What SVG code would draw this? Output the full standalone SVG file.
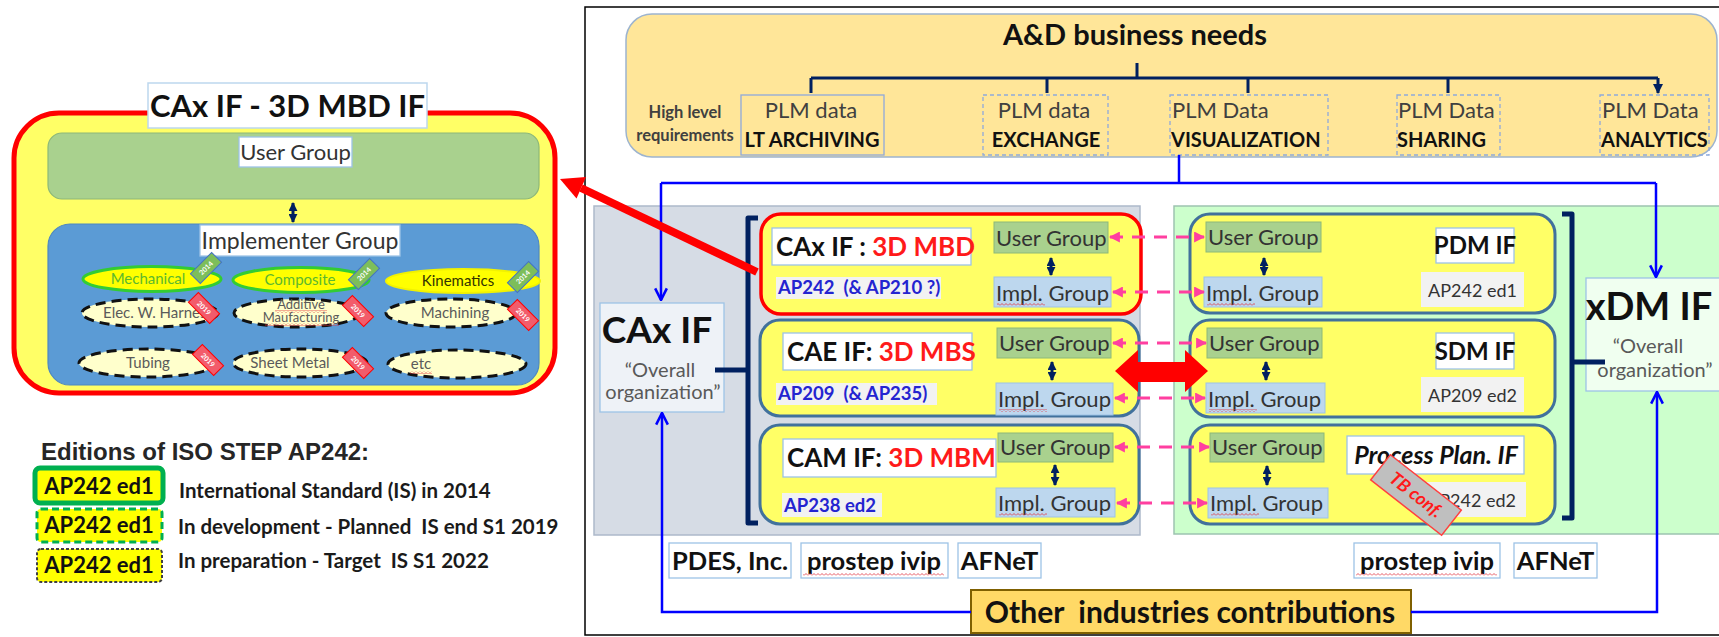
<svg xmlns="http://www.w3.org/2000/svg" width="1719" height="637" viewBox="0 0 1719 637">
<defs>
<style>
text{font-family:Lato,"Noto Sans","Liberation Sans",sans-serif;fill:#111}
.b{font-weight:bold}
.mid{text-anchor:middle}
.pre{white-space:pre}
.lbl{fill:#fff;stroke:#9DC3E6;stroke-width:1.3}
.ug{fill:#A9D18E;stroke:#8DB878;stroke-width:1}
.ig{fill:#BDD7EE;stroke:#9DC3E6;stroke-width:1}
.ugt{font-size:22px;fill:#333}
.row{fill:#FFFF66;stroke:#41719C;stroke-width:3}
.plm{fill:none;stroke:#8FAADC;stroke-width:1.3}
.dsh{stroke-dasharray:4 3}
.plm1{font-size:22px;fill:#404040}
.plm2{font-size:20px;font-weight:bold;fill:#111}
.blue{fill:none;stroke:#0000FF;stroke-width:2.5}
.navy{fill:none;stroke:#002060;stroke-width:3}
.brk{fill:none;stroke:#002060;stroke-width:5;stroke-linejoin:round}
.pink{stroke:#FF3FA0;stroke-width:3;stroke-dasharray:13 9;fill:none}
.ap{font-size:18.5px;font-weight:bold;fill:#2424D0;white-space:pre}
.apb{fill:#F2F2F2}
.ed{font-size:18px;fill:#333}
.ttl{font-size:26px;font-weight:bold}
.red{fill:#FF1A1A}
.ell1{fill:#FFFF00;stroke:#33CC33;stroke-width:3}
.ell2{fill:#FFFFCC;stroke:#111;stroke-width:3;stroke-dasharray:10 6}
.et{font-size:15px;fill:#5A5A5A}
.bg{fill:#7DBE5A;stroke:#4472C4;stroke-width:1}
.br{fill:#F25C6B;stroke:#FF0000;stroke-width:1}
.bt{font-size:7px;font-weight:bold;fill:#fff;text-anchor:middle}
.org{font-size:20px;fill:#595959;text-anchor:middle}
.inst{fill:#fff;stroke:#9DC3E6;stroke-width:1.3}
.instt{font-size:25.5px;font-weight:bold;text-anchor:middle}
.leg{font-size:20.5px;font-weight:bold;fill:#1a1a1a;white-space:pre}
</style>
<marker id="chev" viewBox="0 0 12 12" refX="11" refY="6" markerWidth="14" markerHeight="14" markerUnits="userSpaceOnUse" orient="auto">
<path d="M1,1 L11,6 L1,11" fill="none" stroke="#0000FF" stroke-width="2.2"/>
</marker>
<marker id="ntri" viewBox="0 0 10 10" refX="9" refY="5" markerWidth="10" markerHeight="10" markerUnits="userSpaceOnUse" orient="auto">
<path d="M0,0 L10,5 L0,10 Z" fill="#002060"/>
</marker>
<marker id="dtri" viewBox="0 0 10 10" refX="9" refY="5" markerWidth="9" markerHeight="9" markerUnits="userSpaceOnUse" orient="auto-start-reverse">
<path d="M0,0 L10,5 L0,10 Z" fill="#002060"/>
</marker>
<marker id="ptri" viewBox="0 0 10 10" refX="9" refY="5" markerWidth="11" markerHeight="11" markerUnits="userSpaceOnUse" orient="auto-start-reverse">
<path d="M0,0 L10,5 L0,10 Z" fill="#FF3FA0"/>
</marker>
<pattern id="sq" width="4" height="3" patternUnits="userSpaceOnUse">
<path d="M0,2.5 L2,0.5 L4,2.5" fill="none" stroke="#E0303A" stroke-width="0.8"/>
</pattern>
</defs>

<rect x="0" y="0" width="1719" height="637" fill="#fff"/>

<!-- left: 3D MBD IF detail -->
<g id="mbd-panel">
<rect x="14" y="113" width="541" height="280" rx="45" fill="#FFFF66" stroke="#FF0000" stroke-width="5"/>
<rect x="148" y="83" width="279" height="45" fill="#fff" stroke="#BDD7EE" stroke-width="1.5"/>
<text x="287.5" y="117" font-size="31" class="b mid">CAx IF - 3D MBD IF</text>
</g>
<g id="mbd-user-group">
<rect x="48" y="133" width="491" height="66" rx="14" fill="#A9D18E" stroke="#8DB878" stroke-width="1.2"/>
<rect x="239" y="137" width="113" height="30" class="lbl"/>
<text x="295.5" y="160" class="ugt mid">User Group</text>
</g>
<g id="mbd-impl-group">
<rect x="48" y="224" width="491" height="161" rx="22" fill="#5B9BD5" stroke="#4F88C0" stroke-width="1.2"/>
<rect x="200" y="225" width="200" height="31" class="lbl"/>
<text x="300" y="249" class="mid" style="font-size:23px;fill:#333">Implementer Group</text>
</g>
<g id="mbd-domains">
<ellipse cx="152" cy="279" rx="69" ry="12.5" class="ell1"/>
<text x="148" y="284" class="et mid" style="fill:#5CB82E">Mechanical</text>
<ellipse cx="301" cy="280" rx="68" ry="12.5" class="ell1"/>
<text x="300" y="285" class="et mid" style="fill:#5CB82E">Composite</text>
<ellipse cx="463" cy="281" rx="77" ry="12" fill="#FFFF00" stroke="#F2F200" stroke-width="2"/>
<text x="458" y="286" class="et mid" style="fill:#333300">Kinematics</text>
<ellipse cx="150" cy="313" rx="68" ry="14" class="ell2"/>
<text x="158" y="318" class="et mid">Elec. W. Harness</text>
<ellipse cx="297" cy="313" rx="63" ry="14" class="ell2"/>
<text x="301" y="309" class="et mid" style="font-size:13px">Additive</text>
<text x="301" y="322" class="et mid" style="font-size:13px">Maufacturing</text>
<rect x="275" y="310" width="52" height="3" fill="url(#sq)"/>
<rect x="265" y="323" width="74" height="3" fill="url(#sq)"/>
<ellipse cx="451" cy="313" rx="65" ry="14" class="ell2"/>
<text x="455" y="318" class="et mid">Machining</text>
<ellipse cx="148" cy="363" rx="69" ry="14" class="ell2"/>
<text x="148" y="368" class="et mid">Tubing</text>
<ellipse cx="300" cy="363" rx="67" ry="14" class="ell2"/>
<text x="290" y="368" class="et mid">Sheet Metal</text>
<ellipse cx="457" cy="364" rx="69" ry="14" class="ell2"/>
<text x="421" y="369" class="et mid">etc</text>
<rect x="410" y="371" width="22" height="3" fill="url(#sq)"/>
</g>
<g id="mbd-badges">
<g transform="translate(206,268) rotate(-45)"><rect x="-15" y="-7" width="30" height="14" class="bg"/><text y="2.5" class="bt">2014</text></g>
<g transform="translate(364,274) rotate(-45)"><rect x="-15" y="-7" width="30" height="14" class="bg"/><text y="2.5" class="bt">2014</text></g>
<g transform="translate(523,277) rotate(-45)"><rect x="-15" y="-7" width="30" height="14" class="bg"/><text y="2.5" class="bt">2014</text></g>
<g transform="translate(204,308) rotate(45)"><rect x="-15" y="-7" width="30" height="14" class="br"/><text y="2.5" class="bt">2019</text></g>
<g transform="translate(358,311) rotate(45)"><rect x="-15" y="-7" width="30" height="14" class="br"/><text y="2.5" class="bt">2019</text></g>
<g transform="translate(523,315) rotate(45)"><rect x="-15" y="-7" width="30" height="14" class="br"/><text y="2.5" class="bt">2019</text></g>
<g transform="translate(208,360) rotate(45)"><rect x="-15" y="-7" width="30" height="14" class="br"/><text y="2.5" class="bt">2019</text></g>
<g transform="translate(358,363) rotate(45)"><rect x="-15" y="-7" width="30" height="14" class="br"/><text y="2.5" class="bt">2019</text></g>
</g>

<!-- edition legend -->
<g id="legend">
<text x="41" y="460" style="font-family:'Liberation Sans',Arial,sans-serif;font-size:24px;font-weight:bold;fill:#262626">Editions of ISO STEP AP242:</text>
<rect x="35" y="468" width="128" height="35" rx="5" fill="#FFFF00" stroke="#00B050" stroke-width="5"/>
<text x="99" y="494" font-size="22" class="b mid">AP242 ed1</text>
<rect x="37" y="509" width="125" height="33" rx="4" fill="#FFFF00" stroke="#00B050" stroke-width="3" stroke-dasharray="7 4"/>
<text x="99" y="533" font-size="22" class="b mid">AP242 ed1</text>
<rect x="37" y="549" width="125" height="33" rx="4" fill="#FFFF00" stroke="#404040" stroke-width="2" stroke-dasharray="3 2"/>
<text x="99" y="573" font-size="22" class="b mid">AP242 ed1</text>
<text x="179" y="498" class="leg">International Standard (IS) in 2014</text>
<text x="178" y="534" class="leg">In development - Planned  IS end S1 2019</text>
<text x="178" y="568" class="leg">In preparation - Target  IS S1 2022</text>
</g>

<!-- right: organisation frame -->
<rect x="585" y="7" width="1140" height="628" fill="#fff" stroke="#000" stroke-width="1.5"/>

<g id="business-needs">
<rect x="626" y="14" width="1091" height="143" rx="26" fill="#FFE699" stroke="#9DB4CF" stroke-width="1.5"/>
<text x="1135" y="45" font-size="29" class="b mid">A&amp;D business needs</text>
<text x="685" y="118" font-size="16.5" class="b mid" style="fill:#404040">High level</text>
<text x="685" y="141" font-size="16.5" class="b mid" style="fill:#404040">requirements</text>
</g>
<g id="plm-archiving">
<rect x="741" y="95" width="143" height="60" class="plm"/>
<text x="811" y="118" class="plm1 mid">PLM data</text>
<text x="812" y="147" class="plm2 mid">LT ARCHIVING</text>
</g>
<g id="plm-exchange">
<rect x="983" y="95" width="125" height="60" class="plm dsh"/>
<text x="1044" y="118" class="plm1 mid">PLM data</text>
<text x="1046" y="147" class="plm2 mid">EXCHANGE</text>
</g>
<g id="plm-visualization">
<rect x="1170" y="95" width="158" height="60" class="plm dsh"/>
<text x="1172" y="118" class="plm1">PLM Data</text>
<text x="1171" y="147" class="plm2">VISUALIZATION</text>
</g>
<g id="plm-sharing">
<rect x="1397" y="95" width="103" height="60" class="plm dsh"/>
<text x="1398" y="118" class="plm1">PLM Data</text>
<text x="1397" y="147" class="plm2">SHARING</text>
</g>
<g id="plm-analytics">
<rect x="1600" y="95" width="109" height="60" class="plm dsh"/>
<text x="1602" y="118" class="plm1">PLM Data</text>
<text x="1601" y="147" class="plm2">ANALYTICS</text>
</g>

<g id="cax-panel">
<rect x="594" y="206" width="546" height="329" fill="#D6DCE5" stroke="#ADB9CA" stroke-width="1.5"/>
</g>
<g id="xdm-panel">
<rect x="1174" y="206" width="551" height="328" fill="#CCFFCC" stroke="#9DC3B0" stroke-width="1.5"/>
</g>

<g id="cax-if">
<rect x="600" y="303" width="124" height="109" fill="#EEF2F7" stroke="#9DC3E6" stroke-width="1.3"/>
<text x="657" y="343" font-size="37" class="b mid">CAx IF</text>
<text x="660" y="377" class="org">“Overall</text>
<text x="663" y="399" class="org">organization”</text>
</g>
<g id="xdm-if">
<rect x="1586" y="278" width="139" height="113" fill="#F0FFF0" stroke="#9DC3E6" stroke-width="1.3"/>
<text x="1649" y="320" font-size="38" class="b mid">xDM IF</text>
<text x="1648" y="353" class="org">“Overall</text>
<text x="1655" y="377" class="org">organization”</text>
</g>

<!-- left working groups -->
<g id="cax-mbd">
<rect x="761" y="214" width="380" height="100" rx="20" fill="#FFFF66" stroke="#FF0000" stroke-width="3.5"/>
<rect x="772" y="228" width="199" height="37" class="lbl"/>
<text x="776" y="256" class="ttl">CAx IF : <tspan class="red">3D MBD</tspan></text>
<rect x="776" y="277" width="165" height="22" class="apb"/>
<text x="778" y="294" class="ap">AP242  (&amp; AP210 ?)</text>
<rect x="994" y="222" width="114" height="31" class="ug"/>
<text x="996" y="246" class="ugt">User Group</text>
<rect x="994" y="277" width="117" height="30" class="ig"/>
<text x="996" y="301" class="ugt">Impl. Group</text>
<rect x="997" y="303" width="48" height="3" fill="url(#sq)"/>
<line x1="1051" y1="258" x2="1051" y2="275" class="navy" marker-start="url(#dtri)" marker-end="url(#dtri)"/>
</g>
<g id="cae-mbs">
<rect x="760" y="320" width="379" height="96" rx="20" class="row"/>
<rect x="783" y="333" width="189" height="37" class="lbl"/>
<text x="787" y="361" class="ttl">CAE IF: <tspan class="red">3D MBS</tspan></text>
<rect x="776" y="383" width="161" height="22" class="apb"/>
<text x="778" y="400" class="ap">AP209  (&amp; AP235)</text>
<rect x="997" y="328" width="114" height="30" class="ug"/>
<text x="999" y="351" class="ugt">User Group</text>
<rect x="996" y="383" width="117" height="32" class="ig"/>
<text x="998" y="407" class="ugt">Impl. Group</text>
<rect x="999" y="409" width="48" height="3" fill="url(#sq)"/>
<line x1="1052" y1="362" x2="1052" y2="380" class="navy" marker-start="url(#dtri)" marker-end="url(#dtri)"/>
</g>
<g id="cam-mbm">
<rect x="760" y="425" width="379" height="99" rx="20" class="row"/>
<rect x="783" y="439" width="213" height="38" class="lbl"/>
<text x="787" y="467" class="ttl">CAM IF: <tspan class="red">3D MBM</tspan></text>
<rect x="782" y="493" width="100" height="24" class="apb"/>
<text x="784" y="512" class="ap">AP238 ed2</text>
<rect x="998" y="433" width="115" height="29" class="ug"/>
<text x="1000" y="455" class="ugt">User Group</text>
<rect x="996" y="488" width="119" height="29" class="ig"/>
<text x="998" y="511" class="ugt">Impl. Group</text>
<rect x="999" y="513" width="48" height="3" fill="url(#sq)"/>
<line x1="1055" y1="465" x2="1055" y2="485" class="navy" marker-start="url(#dtri)" marker-end="url(#dtri)"/>
</g>

<!-- right working groups -->
<g id="pdm-if">
<rect x="1190" y="214" width="365" height="99" rx="20" class="row"/>
<rect x="1206" y="222" width="115" height="30" class="ug"/>
<text x="1208" y="245" class="ugt">User Group</text>
<rect x="1204" y="277" width="118" height="30" class="ig"/>
<text x="1206" y="301" class="ugt">Impl. Group</text>
<rect x="1207" y="303" width="48" height="3" fill="url(#sq)"/>
<line x1="1264" y1="258" x2="1264" y2="275" class="navy" marker-start="url(#dtri)" marker-end="url(#dtri)"/>
<rect x="1436" y="228" width="78" height="35" class="lbl"/>
<text x="1475" y="254" font-size="24" class="b mid">PDM IF</text>
<rect x="1421" y="272" width="103" height="35" class="apb"/>
<text x="1472.5" y="297" class="ed mid">AP242 ed1</text>
</g>
<g id="sdm-if">
<rect x="1190" y="320" width="365" height="97" rx="20" class="row"/>
<rect x="1207" y="328" width="115" height="30" class="ug"/>
<text x="1209" y="351" class="ugt">User Group</text>
<rect x="1206" y="383" width="119" height="30" class="ig"/>
<text x="1208" y="407" class="ugt">Impl. Group</text>
<rect x="1209" y="409" width="48" height="3" fill="url(#sq)"/>
<line x1="1266" y1="362" x2="1266" y2="380" class="navy" marker-start="url(#dtri)" marker-end="url(#dtri)"/>
<rect x="1436" y="333" width="78" height="36" class="lbl"/>
<text x="1475" y="360" font-size="24" class="b mid">SDM IF</text>
<rect x="1421" y="377" width="103" height="35" class="apb"/>
<text x="1472.5" y="402" class="ed mid">AP209 ed2</text>
</g>
<g id="process-plan-if">
<rect x="1190" y="425" width="365" height="99" rx="20" class="row"/>
<rect x="1210" y="433" width="114" height="29" class="ug"/>
<text x="1212" y="455" class="ugt">User Group</text>
<rect x="1208" y="488" width="120" height="30" class="ig"/>
<text x="1210" y="511" class="ugt">Impl. Group</text>
<rect x="1211" y="513" width="48" height="3" fill="url(#sq)"/>
<line x1="1267" y1="466" x2="1267" y2="485" class="navy" marker-start="url(#dtri)" marker-end="url(#dtri)"/>
<rect x="1347" y="436" width="177" height="38" class="lbl"/>
<text x="1436" y="464" font-size="25" class="b mid" font-style="italic">Process Plan. IF</text>
<rect x="1424" y="482" width="102" height="35" class="apb"/>
<text x="1516" y="507" class="ed" text-anchor="end">AP242 ed2</text>
<g transform="translate(1416,495) rotate(38)">
<rect x="-45" y="-16" width="90" height="32" fill="#BFBFBF" stroke="#FF4040" stroke-width="1.5"/>
<text x="0" y="6" font-size="18" class="b mid" font-style="italic" style="fill:#FF1A1A">TB conf.</text>
</g>
</g>

<!-- member organisations -->
<g id="pdes">
<rect x="669" y="543" width="122" height="35" class="inst"/>
<text x="730" y="570" class="instt">PDES, Inc.</text>
</g>
<g id="prostep-left">
<rect x="801" y="543" width="147" height="35" class="inst"/>
<text x="874" y="570" class="instt">prostep ivip</text>
<rect x="803" y="573" width="141" height="3" fill="url(#sq)"/>
</g>
<g id="afnet-left">
<rect x="958" y="543" width="83" height="35" class="inst"/>
<text x="999.5" y="570" class="instt">AFNeT</text>
</g>
<g id="prostep-right">
<rect x="1354" y="543" width="146" height="35" class="inst"/>
<text x="1427" y="570" class="instt">prostep ivip</text>
<rect x="1356" y="573" width="141" height="3" fill="url(#sq)"/>
</g>
<g id="afnet-right">
<rect x="1514" y="543" width="83" height="35" class="inst"/>
<text x="1555.5" y="570" class="instt">AFNeT</text>
</g>
<g id="other-industries">
<rect x="971" y="590" width="440" height="43" fill="#FFD966" stroke="#7F6000" stroke-width="2"/>
<text x="1190" y="623" font-size="30" class="b mid pre">Other  industries contributions</text>
</g>

<!-- connectors -->
<g id="connectors">
<path d="M1137 63 V78 M811 78 H1658" class="navy"/>
<path d="M811 78 V93 M1047 78 V93 M1248 78 V93 M1448 78 V93 M1658 78 V93" class="navy" marker-end="url(#ntri)"/>
<path d="M1179 155 V183 M661 183 H1656" class="blue"/>
<path d="M661 183 V300" class="blue" marker-end="url(#chev)"/>
<path d="M1656 183 V277" class="blue" marker-end="url(#chev)"/>
<path d="M971 612 H662 V413" class="blue" marker-end="url(#chev)"/>
<path d="M1411 612 H1657 V392" class="blue" marker-end="url(#chev)"/>
<path d="M758 218 H748 V523 H758" class="brk"/>
<path d="M715 370 H748" class="brk"/>
<path d="M1562 214 H1572 V518 H1562" class="brk"/>
<path d="M1572 362 H1605" class="brk"/>
<line x1="1110" y1="237" x2="1204" y2="237" class="pink" marker-start="url(#ptri)" marker-end="url(#ptri)"/>
<line x1="1113" y1="292" x2="1204" y2="292" class="pink" marker-start="url(#ptri)" marker-end="url(#ptri)"/>
<line x1="1113" y1="343" x2="1206" y2="343" class="pink" marker-start="url(#ptri)" marker-end="url(#ptri)"/>
<line x1="1115" y1="398" x2="1205" y2="398" class="pink" marker-start="url(#ptri)" marker-end="url(#ptri)"/>
<line x1="1115" y1="447" x2="1209" y2="447" class="pink" marker-start="url(#ptri)" marker-end="url(#ptri)"/>
<line x1="1117" y1="503" x2="1207" y2="503" class="pink" marker-start="url(#ptri)" marker-end="url(#ptri)"/>
<polygon points="1115,371 1138,350 1138,362 1185,362 1185,350 1208,371 1185,392 1185,382 1138,382 1138,392" fill="#FF0000"/>
<line x1="757" y1="272" x2="581" y2="188" stroke="#FF0000" stroke-width="8"/>
<polygon points="560,179 586,177 576.5,198.5" fill="#FF0000"/>
<line x1="293" y1="203" x2="293" y2="222" class="navy" marker-start="url(#dtri)" marker-end="url(#dtri)"/>
</g>
</svg>
